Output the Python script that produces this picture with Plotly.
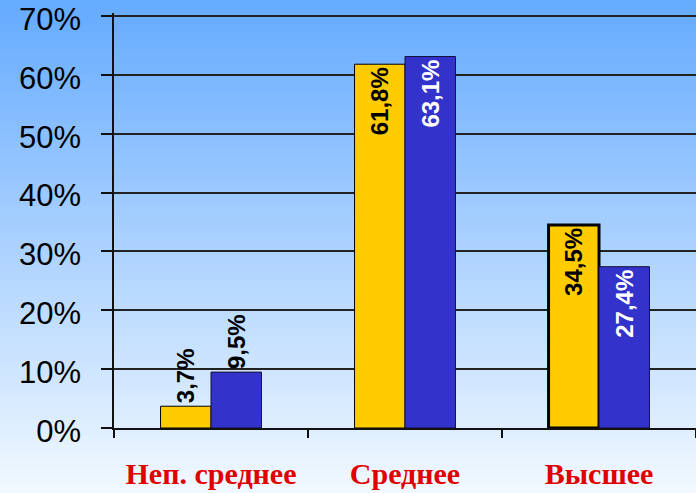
import plotly.graph_objects as go

categories = ["Неп. среднее", "Среднее", "Высшее"]
series_a = [3.7, 61.8, 34.5]
series_b = [9.5, 63.1, 27.4]
labels_a = ["3,7%", "61,8%", "34,5%"]
labels_b = ["9,5%", "63,1%", "27,4%"]
y_ticks = [0, 10, 20, 30, 40, 50, 60, 70]
y_tick_labels = ["0%", "10%", "20%", "30%", "40%", "50%", "60%", "70%"]

W, H = 696, 493
ML, MR, MT, MB = 114, 0, 13, 65

fig = go.Figure()
fig.add_trace(go.Bar(
    x=categories, y=series_a, text=labels_a,
    textposition=["outside", "inside", "inside"],
    insidetextanchor="end", textangle=-90, constraintext="none",
    textfont=dict(family="Liberation Sans, Arial", size=24, weight="bold",
                  color=["black", "black", "black"]),
    marker=dict(color="#FFCC00", line=dict(color="black", width=[1, 1, 3])),
    cliponaxis=False, showlegend=False, hoverinfo="skip",
))
fig.add_trace(go.Bar(
    x=categories, y=series_b, text=labels_b,
    textposition=["outside", "inside", "inside"],
    insidetextanchor="end", textangle=-90, constraintext="none",
    textfont=dict(family="Liberation Sans, Arial", size=24, weight="bold",
                  color=["black", "white", "white"]),
    marker=dict(color="#3333CC", line=dict(color="#111133", width=1)),
    cliponaxis=False, showlegend=False, hoverinfo="skip",
))

# gradient background strips
shapes = []
n = 60
plot_h = H - MT - MB
top_c = (100, 170, 255)
bot_c = (242, 249, 255)
for i in range(n):
    p0 = i * H / n
    p1 = (i + 1) * H / n + 1
    t = (i + 0.5) / n
    c = tuple(int(round(top_c[k] + (bot_c[k] - top_c[k]) * t)) for k in range(3))
    y0 = (H - MB - p0) / plot_h
    y1 = (H - MB - p1) / plot_h
    shapes.append(dict(type="rect", xref="paper", yref="paper", x0=-0.3, x1=1.1,
                       y0=y1, y1=y0, fillcolor="rgb(%d,%d,%d)" % c,
                       line=dict(width=0), layer="below"))

fig.update_layout(
    width=W, height=H,
    margin=dict(l=ML, r=MR, t=MT, b=MB, autoexpand=False),
    barmode="group", bargap=0.48, bargroupgap=0,
    paper_bgcolor="rgb(242,249,255)", plot_bgcolor="rgba(0,0,0,0)",
    shapes=shapes,
    xaxis=dict(
        automargin=False, fixedrange=True,
        showline=True, linecolor="#111", linewidth=1.5,
        ticks="outside", ticklen=8, tickcolor="#111", tickwidth=1.5,
        tickson="boundaries", showgrid=False,
        tickfont=dict(family="Liberation Serif, Times New Roman", size=30, color="#E00000", weight="bold"),
        ticklabelstandoff=18, ticklabeloverflow="allow",
    ),
    yaxis=dict(
        automargin=False, fixedrange=True,
        range=[0, 70.5], tickvals=y_ticks, ticktext=y_tick_labels,
        showline=True, linecolor="#111", linewidth=1.5,
        ticks="outside", ticklen=11, tickcolor="#111", tickwidth=1.5,
        showgrid=True, gridcolor="#222", gridwidth=1.5, zeroline=False,
        tickfont=dict(family="Liberation Sans, Arial", size=31, color="black"),
        ticklabelstandoff=14, ticklabeloverflow="allow", ticklabelshift=3,
    ),
)

fig.write_html("out.html", config={"displayModeBar": False},
               post_script="document.body.style.margin='0';")
